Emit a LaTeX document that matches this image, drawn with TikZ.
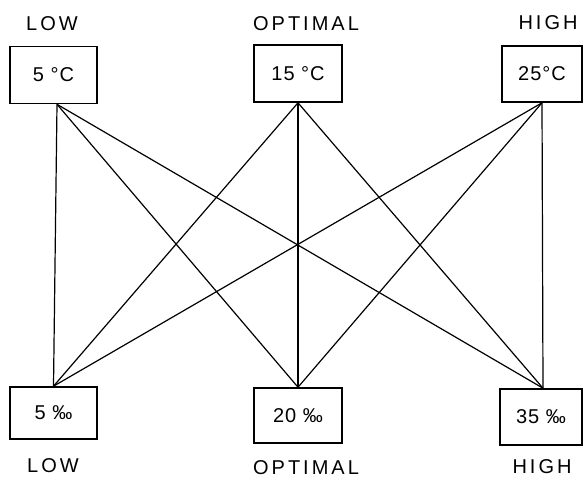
\documentclass[tikz,border=0pt]{standalone}
\usepackage{fontspec}
\setmainfont{Liberation Sans}
\newfontfamily\labfont[LetterSpace=15]{Liberation Sans}
\newfontfamily\boxfont[LetterSpace=5]{Liberation Sans}
\begin{document}
\begin{tikzpicture}[x=1pt,y=-1pt,
  box/.style={draw,line width=1.6pt,rectangle,inner sep=0pt,font=\boxfont\fontsize{20}{24}\selectfont},
  lab/.style={inner sep=0pt,font=\labfont\fontsize{20}{23}\selectfont},
  link/.style={line width=1.2pt}]
\useasboundingbox (0,0) rectangle (583,479);
% top labels
\node[lab] (l1) at (52,24) {LOW};
\node[lab] (l2) at (306,24) {OPTIMAL};
\node[lab] (l3) at (548,23) {HIGH};
% top boxes
\node[box,minimum width=87pt,minimum height=57pt] (b1) at (53.5,75) {5 °C};
\node[box,minimum width=88pt,minimum height=57pt] (b2) at (298,73.5) {15 °C};
\node[box,minimum width=80pt,minimum height=56pt] (b3) at (542,74) {25°C};
% bottom boxes
\node[box,minimum width=87pt,minimum height=52pt] (b4) at (53.5,413) {5 ‰};
\node[box,minimum width=88pt,minimum height=55pt] (b5) at (298,415.5) {20 ‰};
\node[box,minimum width=82pt,minimum height=56pt] (b6) at (541,417) {35 ‰};
% bottom labels
\node[lab] (l4) at (53,466) {LOW};
\node[lab] (l5) at (306,468) {OPTIMAL};
\node[lab] (l6) at (542,467) {HIGH};
% connection points
\coordinate (t1) at ([xshift=3.5pt]b1.south);
\coordinate (t2) at (b2.south);
\coordinate (t3) at (b3.south);
\coordinate (u1) at (b4.north);
\coordinate (u2) at (b5.north);
\coordinate (u3) at ([xshift=2pt]b6.north);
\foreach \a in {t1,t2,t3}{
  \foreach \b in {u1,u2,u3}{
    \draw[link] (\a) -- (\b);
  }
}
\end{tikzpicture}
\end{document}
